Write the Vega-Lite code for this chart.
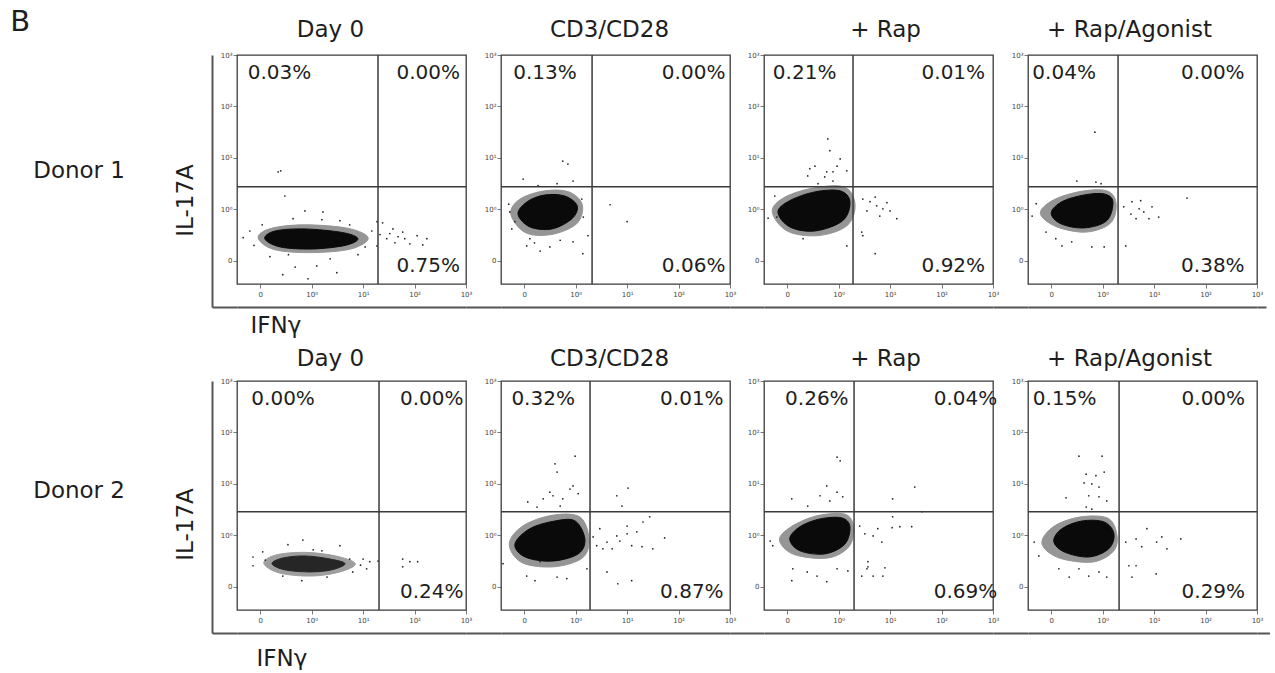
{
"$schema": "https://vega.github.io/schema/vega-lite/v6.json",
"padding": {"left": 10, "top": 8, "right": 0, "bottom": 0},
"autosize": {"type": "pad"},
"title": {"text": "B", "anchor": "start", "frame": "bounds", "fontSize": 29, "dx": -23, "offset": -48, "baseline": "bottom"},
"datasets": {
"flow": [
{"p":"a1","k":"halo","i":0,"x":2.10,"y":0.44},{"p":"a1","k":"halo","i":1,"x":1.72,"y":0.63},{"p":"a1","k":"halo","i":2,"x":0.87,"y":0.70},{"p":"a1","k":"halo","i":3,"x":0.21,"y":0.63},{"p":"a1","k":"halo","i":4,"x":-0.04,"y":0.45},{"p":"a1","k":"halo","i":5,"x":0.27,"y":0.22},{"p":"a1","k":"halo","i":6,"x":0.99,"y":0.16},{"p":"a1","k":"halo","i":7,"x":1.76,"y":0.23},
{"p":"a1","k":"core","i":0,"x":1.90,"y":0.43},{"p":"a1","k":"core","i":1,"x":1.60,"y":0.55},{"p":"a1","k":"core","i":2,"x":0.87,"y":0.62},{"p":"a1","k":"core","i":3,"x":0.29,"y":0.58},{"p":"a1","k":"core","i":4,"x":0.09,"y":0.43},{"p":"a1","k":"core","i":5,"x":0.39,"y":0.27},{"p":"a1","k":"core","i":6,"x":1.01,"y":0.23},{"p":"a1","k":"core","i":7,"x":1.65,"y":0.30},
{"p":"a1","k":"dot","x":0.35,"y":1.73},{"p":"a1","k":"dot","x":0.40,"y":1.75},{"p":"a1","k":"dot","x":0.48,"y":1.26},{"p":"a1","k":"dot","x":0.87,"y":0.97},{"p":"a1","k":"dot","x":1.22,"y":0.95},{"p":"a1","k":"dot","x":0.64,"y":0.82},{"p":"a1","k":"dot","x":-0.33,"y":0.45},{"p":"a1","k":"dot","x":0.68,"y":-0.12},{"p":"a1","k":"dot","x":0.44,"y":-0.27},{"p":"a1","k":"dot","x":0.93,"y":-0.35},{"p":"a1","k":"dot","x":1.49,"y":-0.23},{"p":"a1","k":"dot","x":1.10,"y":-0.10},{"p":"a1","k":"dot","x":2.27,"y":0.76},{"p":"a1","k":"dot","x":2.38,"y":0.74},{"p":"a1","k":"dot","x":2.58,"y":0.62},{"p":"a1","k":"dot","x":2.77,"y":0.56},{"p":"a1","k":"dot","x":3.05,"y":0.49},{"p":"a1","k":"dot","x":3.16,"y":0.31},{"p":"a1","k":"dot","x":2.91,"y":0.33},{"p":"a1","k":"dot","x":2.46,"y":0.43},{"p":"a1","k":"dot","x":2.68,"y":0.47},{"p":"a1","k":"dot","x":2.27,"y":0.29},{"p":"a1","k":"dot","x":2.52,"y":0.53},{"p":"a1","k":"dot","x":2.81,"y":0.43},{"p":"a1","k":"dot","x":2.33,"y":0.51},{"p":"a1","k":"dot","x":2.62,"y":0.35},{"p":"a1","k":"dot","x":2.17,"y":0.58},{"p":"a1","k":"dot","x":2.04,"y":0.27},{"p":"a1","k":"dot","x":-0.20,"y":0.58},{"p":"a1","k":"dot","x":0.04,"y":0.70},{"p":"a1","k":"dot","x":1.74,"y":0.70},{"p":"a1","k":"dot","x":1.55,"y":0.78},{"p":"a1","k":"dot","x":1.90,"y":0.12},{"p":"a1","k":"dot","x":0.19,"y":0.08},{"p":"a1","k":"dot","x":1.36,"y":0.04},{"p":"a1","k":"dot","x":3.24,"y":0.43},{"p":"a1","k":"dot","x":-0.12,"y":0.30},{"p":"a1","k":"dot","x":1.20,"y":0.80},{"p":"a1","k":"dot","x":0.55,"y":0.12},
{"p":"a1","k":"gate","x":2.29,"y":1.44},
{"p":"a1","k":"pct","s":"L","v":"T","t":"0.03%"},{"p":"a1","k":"pct","s":"R","v":"T","t":"0.00%"},{"p":"a1","k":"pct","s":"R","v":"B","t":"0.75%"},

{"p":"a2","k":"halo","i":0,"x":1.13,"y":1.09},{"p":"a2","k":"halo","i":1,"x":0.87,"y":1.34},{"p":"a2","k":"halo","i":2,"x":0.40,"y":1.36},{"p":"a2","k":"halo","i":3,"x":-0.08,"y":1.20},{"p":"a2","k":"halo","i":4,"x":-0.26,"y":0.91},{"p":"a2","k":"halo","i":5,"x":0.02,"y":0.55},{"p":"a2","k":"halo","i":6,"x":0.52,"y":0.51},{"p":"a2","k":"halo","i":7,"x":1.02,"y":0.72},
{"p":"a2","k":"core","i":0,"x":1.03,"y":1.07},{"p":"a2","k":"core","i":1,"x":0.79,"y":1.26},{"p":"a2","k":"core","i":2,"x":0.40,"y":1.28},{"p":"a2","k":"core","i":3,"x":0.06,"y":1.15},{"p":"a2","k":"core","i":4,"x":-0.12,"y":0.91},{"p":"a2","k":"core","i":5,"x":0.11,"y":0.66},{"p":"a2","k":"core","i":6,"x":0.54,"y":0.62},{"p":"a2","k":"core","i":7,"x":0.93,"y":0.82},
{"p":"a2","k":"dot","x":-0.02,"y":1.59},{"p":"a2","k":"dot","x":0.27,"y":1.46},{"p":"a2","k":"dot","x":0.64,"y":1.50},{"p":"a2","k":"dot","x":0.75,"y":1.94},{"p":"a2","k":"dot","x":0.85,"y":1.88},{"p":"a2","k":"dot","x":0.95,"y":1.55},{"p":"a2","k":"dot","x":1.67,"y":1.09},{"p":"a2","k":"dot","x":2.00,"y":0.76},{"p":"a2","k":"dot","x":-0.28,"y":0.95},{"p":"a2","k":"dot","x":-0.24,"y":0.62},{"p":"a2","k":"dot","x":0.05,"y":0.29},{"p":"a2","k":"dot","x":0.31,"y":0.19},{"p":"a2","k":"dot","x":1.14,"y":0.14},{"p":"a2","k":"dot","x":1.24,"y":0.49},{"p":"a2","k":"dot","x":0.11,"y":0.43},{"p":"a2","k":"dot","x":0.50,"y":0.27},{"p":"a2","k":"dot","x":0.95,"y":0.37},{"p":"a2","k":"dot","x":-0.18,"y":0.76},{"p":"a2","k":"dot","x":1.12,"y":1.20},{"p":"a2","k":"dot","x":-0.30,"y":1.10},{"p":"a2","k":"dot","x":1.15,"y":0.85},{"p":"a2","k":"dot","x":0.20,"y":0.35},{"p":"a2","k":"dot","x":0.70,"y":0.40},
{"p":"a2","k":"gate","x":1.32,"y":1.44},
{"p":"a2","k":"pct","s":"L","v":"T","t":"0.13%"},{"p":"a2","k":"pct","s":"R","v":"T","t":"0.00%"},{"p":"a2","k":"pct","s":"R","v":"B","t":"0.06%"},

{"p":"a3","k":"halo","i":0,"x":1.32,"y":1.09},{"p":"a3","k":"halo","i":1,"x":1.12,"y":1.43},{"p":"a3","k":"halo","i":2,"x":0.54,"y":1.42},{"p":"a3","k":"halo","i":3,"x":-0.04,"y":1.24},{"p":"a3","k":"halo","i":4,"x":-0.29,"y":0.96},{"p":"a3","k":"halo","i":5,"x":0.0,"y":0.58},{"p":"a3","k":"halo","i":6,"x":0.60,"y":0.49},{"p":"a3","k":"halo","i":7,"x":1.16,"y":0.68},
{"p":"a3","k":"core","i":0,"x":1.22,"y":1.15},{"p":"a3","k":"core","i":1,"x":1.03,"y":1.36},{"p":"a3","k":"core","i":2,"x":0.54,"y":1.34},{"p":"a3","k":"core","i":3,"x":0.05,"y":1.17},{"p":"a3","k":"core","i":4,"x":-0.18,"y":0.95},{"p":"a3","k":"core","i":5,"x":0.05,"y":0.66},{"p":"a3","k":"core","i":6,"x":0.54,"y":0.58},{"p":"a3","k":"core","i":7,"x":1.08,"y":0.78},
{"p":"a3","k":"dot","x":0.79,"y":2.37},{"p":"a3","k":"dot","x":0.83,"y":2.14},{"p":"a3","k":"dot","x":0.77,"y":1.73},{"p":"a3","k":"dot","x":0.89,"y":1.73},{"p":"a3","k":"dot","x":0.73,"y":1.63},{"p":"a3","k":"dot","x":0.44,"y":1.79},{"p":"a3","k":"dot","x":0.40,"y":1.65},{"p":"a3","k":"dot","x":1.03,"y":1.98},{"p":"a3","k":"dot","x":1.16,"y":1.75},{"p":"a3","k":"dot","x":0.60,"y":1.50},{"p":"a3","k":"dot","x":0.89,"y":1.55},{"p":"a3","k":"dot","x":0.97,"y":1.84},{"p":"a3","k":"dot","x":0.54,"y":1.84},{"p":"a3","k":"dot","x":0.31,"y":0.43},{"p":"a3","k":"dot","x":1.16,"y":0.29},{"p":"a3","k":"dot","x":1.47,"y":0.49},{"p":"a3","k":"dot","x":1.71,"y":0.14},{"p":"a3","k":"dot","x":-0.20,"y":0.85},{"p":"a3","k":"dot","x":-0.37,"y":0.83},{"p":"a3","k":"dot","x":-0.24,"y":1.26},{"p":"a3","k":"dot","x":1.47,"y":1.20},{"p":"a3","k":"dot","x":1.61,"y":1.15},{"p":"a3","k":"dot","x":1.74,"y":1.07},{"p":"a3","k":"dot","x":1.86,"y":1.01},{"p":"a3","k":"dot","x":2.00,"y":0.97},{"p":"a3","k":"dot","x":2.13,"y":0.82},{"p":"a3","k":"dot","x":1.80,"y":0.87},{"p":"a3","k":"dot","x":1.55,"y":0.97},{"p":"a3","k":"dot","x":1.71,"y":1.24},{"p":"a3","k":"dot","x":1.94,"y":1.13},{"p":"a3","k":"dot","x":1.45,"y":0.56},
{"p":"a3","k":"gate","x":1.28,"y":1.44},
{"p":"a3","k":"pct","s":"L","v":"T","t":"0.21%"},{"p":"a3","k":"pct","s":"R","v":"T","t":"0.01%"},{"p":"a3","k":"pct","s":"R","v":"B","t":"0.92%"},

{"p":"a4","k":"halo","i":0,"x":1.26,"y":1.13},{"p":"a4","k":"halo","i":1,"x":1.08,"y":1.36},{"p":"a4","k":"halo","i":2,"x":0.58,"y":1.35},{"p":"a4","k":"halo","i":3,"x":0.04,"y":1.18},{"p":"a4","k":"halo","i":4,"x":-0.21,"y":0.92},{"p":"a4","k":"halo","i":5,"x":0.11,"y":0.66},{"p":"a4","k":"halo","i":6,"x":0.69,"y":0.56},{"p":"a4","k":"halo","i":7,"x":1.16,"y":0.74},
{"p":"a4","k":"core","i":0,"x":1.20,"y":1.15},{"p":"a4","k":"core","i":1,"x":1.03,"y":1.30},{"p":"a4","k":"core","i":2,"x":0.64,"y":1.28},{"p":"a4","k":"core","i":3,"x":0.21,"y":1.15},{"p":"a4","k":"core","i":4,"x":0.0,"y":0.93},{"p":"a4","k":"core","i":5,"x":0.19,"y":0.72},{"p":"a4","k":"core","i":6,"x":0.64,"y":0.64},{"p":"a4","k":"core","i":7,"x":1.08,"y":0.78},
{"p":"a4","k":"dot","x":0.85,"y":2.50},{"p":"a4","k":"dot","x":0.50,"y":1.55},{"p":"a4","k":"dot","x":0.87,"y":1.53},{"p":"a4","k":"dot","x":0.97,"y":1.50},{"p":"a4","k":"dot","x":-0.29,"y":1.11},{"p":"a4","k":"dot","x":-0.37,"y":0.87},{"p":"a4","k":"dot","x":0.21,"y":0.29},{"p":"a4","k":"dot","x":0.40,"y":0.37},{"p":"a4","k":"dot","x":0.79,"y":0.27},{"p":"a4","k":"dot","x":1.03,"y":0.27},{"p":"a4","k":"dot","x":1.45,"y":0.29},{"p":"a4","k":"dot","x":1.41,"y":1.05},{"p":"a4","k":"dot","x":1.57,"y":1.15},{"p":"a4","k":"dot","x":1.71,"y":1.01},{"p":"a4","k":"dot","x":1.80,"y":0.95},{"p":"a4","k":"dot","x":1.90,"y":0.82},{"p":"a4","k":"dot","x":2.09,"y":0.85},{"p":"a4","k":"dot","x":2.64,"y":1.22},{"p":"a4","k":"dot","x":1.65,"y":0.82},{"p":"a4","k":"dot","x":1.55,"y":0.91},{"p":"a4","k":"dot","x":1.96,"y":1.05},{"p":"a4","k":"dot","x":1.74,"y":1.17},{"p":"a4","k":"dot","x":-0.10,"y":0.56},{"p":"a4","k":"dot","x":0.09,"y":0.43},
{"p":"a4","k":"gate","x":1.30,"y":1.44},
{"p":"a4","k":"pct","s":"L","v":"T","t":"0.04%"},{"p":"a4","k":"pct","s":"R","v":"T","t":"0.00%"},{"p":"a4","k":"pct","s":"R","v":"B","t":"0.38%"},

{"p":"b1","k":"halo","i":0,"x":1.85,"y":0.45},{"p":"b1","k":"halo","i":1,"x":1.47,"y":0.60},{"p":"b1","k":"halo","i":2,"x":0.87,"y":0.67},{"p":"b1","k":"halo","i":3,"x":0.31,"y":0.62},{"p":"b1","k":"halo","i":4,"x":0.07,"y":0.46},{"p":"b1","k":"halo","i":5,"x":0.37,"y":0.27},{"p":"b1","k":"halo","i":6,"x":0.99,"y":0.21},{"p":"b1","k":"halo","i":7,"x":1.55,"y":0.29},
{"p":"b1","k":"core","i":0,"x":1.65,"y":0.45},{"p":"b1","k":"core","i":1,"x":1.36,"y":0.54},{"p":"b1","k":"core","i":2,"x":0.87,"y":0.60},{"p":"b1","k":"core","i":3,"x":0.44,"y":0.56},{"p":"b1","k":"core","i":4,"x":0.23,"y":0.45},{"p":"b1","k":"core","i":5,"x":0.48,"y":0.33},{"p":"b1","k":"core","i":6,"x":0.97,"y":0.29},{"p":"b1","k":"core","i":7,"x":1.39,"y":0.33},
{"p":"b1","k":"dot","x":0.83,"y":0.91},{"p":"b1","k":"dot","x":0.54,"y":0.82},{"p":"b1","k":"dot","x":1.03,"y":0.72},{"p":"b1","k":"dot","x":-0.14,"y":0.58},{"p":"b1","k":"dot","x":0.05,"y":0.68},{"p":"b1","k":"dot","x":1.55,"y":0.80},{"p":"b1","k":"dot","x":1.74,"y":0.54},{"p":"b1","k":"dot","x":2.00,"y":0.54},{"p":"b1","k":"dot","x":2.13,"y":0.49},{"p":"b1","k":"dot","x":2.29,"y":0.50},{"p":"b1","k":"dot","x":2.77,"y":0.54},{"p":"b1","k":"dot","x":2.91,"y":0.49},{"p":"b1","k":"dot","x":3.06,"y":0.49},{"p":"b1","k":"dot","x":2.77,"y":0.39},{"p":"b1","k":"dot","x":0.81,"y":0.12},{"p":"b1","k":"dot","x":1.30,"y":0.19},{"p":"b1","k":"dot","x":0.44,"y":0.21},{"p":"b1","k":"dot","x":1.80,"y":0.29},{"p":"b1","k":"dot","x":2.07,"y":0.35},{"p":"b1","k":"dot","x":-0.14,"y":0.41},{"p":"b1","k":"dot","x":1.95,"y":0.42},{"p":"b1","k":"dot","x":0.10,"y":0.52},{"p":"b1","k":"dot","x":1.20,"y":0.70},
{"p":"b1","k":"gate","x":2.31,"y":1.46},
{"p":"b1","k":"pct","s":"L","v":"T","t":"0.00%"},{"p":"b1","k":"pct","s":"R","v":"T","t":"0.00%"},{"p":"b1","k":"pct","s":"R","v":"B","t":"0.24%"},

{"p":"b2","k":"halo","i":0,"x":1.26,"y":0.93},{"p":"b2","k":"halo","i":1,"x":1.08,"y":1.36},{"p":"b2","k":"halo","i":2,"x":0.54,"y":1.39},{"p":"b2","k":"halo","i":3,"x":-0.03,"y":1.18},{"p":"b2","k":"halo","i":4,"x":-0.29,"y":0.83},{"p":"b2","k":"halo","i":5,"x":-0.04,"y":0.47},{"p":"b2","k":"halo","i":6,"x":0.58,"y":0.39},{"p":"b2","k":"halo","i":7,"x":1.13,"y":0.56},
{"p":"b2","k":"core","i":0,"x":1.18,"y":0.93},{"p":"b2","k":"core","i":1,"x":0.99,"y":1.28},{"p":"b2","k":"core","i":2,"x":0.60,"y":1.28},{"p":"b2","k":"core","i":3,"x":0.11,"y":1.13},{"p":"b2","k":"core","i":4,"x":-0.18,"y":0.83},{"p":"b2","k":"core","i":5,"x":0.02,"y":0.58},{"p":"b2","k":"core","i":6,"x":0.54,"y":0.50},{"p":"b2","k":"core","i":7,"x":1.05,"y":0.64},
{"p":"b2","k":"dot","x":0.99,"y":2.54},{"p":"b2","k":"dot","x":0.60,"y":2.39},{"p":"b2","k":"dot","x":0.64,"y":2.23},{"p":"b2","k":"dot","x":0.50,"y":1.84},{"p":"b2","k":"dot","x":0.56,"y":1.77},{"p":"b2","k":"dot","x":0.75,"y":1.71},{"p":"b2","k":"dot","x":0.89,"y":1.90},{"p":"b2","k":"dot","x":0.95,"y":1.96},{"p":"b2","k":"dot","x":0.07,"y":1.65},{"p":"b2","k":"dot","x":0.25,"y":1.55},{"p":"b2","k":"dot","x":0.70,"y":1.57},{"p":"b2","k":"dot","x":1.05,"y":1.81},{"p":"b2","k":"dot","x":0.37,"y":1.71},{"p":"b2","k":"dot","x":1.47,"y":1.13},{"p":"b2","k":"dot","x":1.61,"y":0.87},{"p":"b2","k":"dot","x":1.80,"y":0.99},{"p":"b2","k":"dot","x":2.00,"y":1.03},{"p":"b2","k":"dot","x":2.09,"y":0.80},{"p":"b2","k":"dot","x":2.19,"y":1.07},{"p":"b2","k":"dot","x":2.31,"y":1.26},{"p":"b2","k":"dot","x":2.44,"y":1.36},{"p":"b2","k":"dot","x":2.29,"y":0.78},{"p":"b2","k":"dot","x":2.50,"y":0.74},{"p":"b2","k":"dot","x":2.73,"y":0.95},{"p":"b2","k":"dot","x":1.53,"y":0.74},{"p":"b2","k":"dot","x":1.71,"y":0.74},{"p":"b2","k":"dot","x":1.86,"y":0.89},{"p":"b2","k":"dot","x":2.00,"y":1.18},{"p":"b2","k":"dot","x":1.34,"y":0.97},{"p":"b2","k":"dot","x":1.41,"y":0.80},{"p":"b2","k":"dot","x":1.80,"y":1.77},{"p":"b2","k":"dot","x":1.90,"y":1.57},{"p":"b2","k":"dot","x":2.02,"y":1.92},{"p":"b2","k":"dot","x":1.61,"y":0.29},{"p":"b2","k":"dot","x":2.09,"y":0.12},{"p":"b2","k":"dot","x":1.82,"y":0.06},{"p":"b2","k":"dot","x":0.05,"y":0.21},{"p":"b2","k":"dot","x":0.21,"y":0.12},{"p":"b2","k":"dot","x":0.64,"y":0.19},{"p":"b2","k":"dot","x":0.83,"y":0.16},{"p":"b2","k":"dot","x":1.22,"y":0.35},{"p":"b2","k":"dot","x":0.31,"y":0.49},{"p":"b2","k":"dot","x":-0.41,"y":0.45},
{"p":"b2","k":"gate","x":1.28,"y":1.46},
{"p":"b2","k":"pct","s":"L","v":"T","t":"0.32%"},{"p":"b2","k":"pct","s":"R","v":"T","t":"0.01%"},{"p":"b2","k":"pct","s":"R","v":"B","t":"0.87%"},

{"p":"b3","k":"halo","i":0,"x":1.29,"y":1.15},{"p":"b3","k":"halo","i":1,"x":1.13,"y":1.41},{"p":"b3","k":"halo","i":2,"x":0.58,"y":1.38},{"p":"b3","k":"halo","i":3,"x":0.08,"y":1.17},{"p":"b3","k":"halo","i":4,"x":-0.15,"y":0.91},{"p":"b3","k":"halo","i":5,"x":0.13,"y":0.63},{"p":"b3","k":"halo","i":6,"x":0.79,"y":0.56},{"p":"b3","k":"halo","i":7,"x":1.20,"y":0.78},
{"p":"b3","k":"core","i":0,"x":1.22,"y":1.17},{"p":"b3","k":"core","i":1,"x":1.06,"y":1.34},{"p":"b3","k":"core","i":2,"x":0.64,"y":1.32},{"p":"b3","k":"core","i":3,"x":0.25,"y":1.17},{"p":"b3","k":"core","i":4,"x":0.05,"y":0.93},{"p":"b3","k":"core","i":5,"x":0.25,"y":0.70},{"p":"b3","k":"core","i":6,"x":0.73,"y":0.64},{"p":"b3","k":"core","i":7,"x":1.12,"y":0.83},
{"p":"b3","k":"dot","x":0.97,"y":2.52},{"p":"b3","k":"dot","x":1.03,"y":2.45},{"p":"b3","k":"dot","x":0.77,"y":1.96},{"p":"b3","k":"dot","x":0.64,"y":1.77},{"p":"b3","k":"dot","x":0.97,"y":1.84},{"p":"b3","k":"dot","x":1.08,"y":1.75},{"p":"b3","k":"dot","x":0.83,"y":1.67},{"p":"b3","k":"dot","x":0.09,"y":1.71},{"p":"b3","k":"dot","x":0.40,"y":1.57},{"p":"b3","k":"dot","x":0.09,"y":0.12},{"p":"b3","k":"dot","x":0.39,"y":0.29},{"p":"b3","k":"dot","x":0.58,"y":0.21},{"p":"b3","k":"dot","x":0.77,"y":0.10},{"p":"b3","k":"dot","x":0.97,"y":0.35},{"p":"b3","k":"dot","x":1.18,"y":0.31},{"p":"b3","k":"dot","x":1.45,"y":0.21},{"p":"b3","k":"dot","x":1.57,"y":0.39},{"p":"b3","k":"dot","x":-0.28,"y":0.80},{"p":"b3","k":"dot","x":-0.33,"y":0.89},{"p":"b3","k":"dot","x":0.11,"y":0.35},{"p":"b3","k":"dot","x":1.51,"y":1.03},{"p":"b3","k":"dot","x":1.67,"y":0.99},{"p":"b3","k":"dot","x":1.84,"y":0.87},{"p":"b3","k":"dot","x":1.76,"y":1.13},{"p":"b3","k":"dot","x":2.04,"y":1.15},{"p":"b3","k":"dot","x":2.19,"y":1.17},{"p":"b3","k":"dot","x":2.42,"y":1.17},{"p":"b3","k":"dot","x":2.05,"y":1.36},{"p":"b3","k":"dot","x":2.05,"y":1.71},{"p":"b3","k":"dot","x":2.48,"y":1.94},{"p":"b3","k":"dot","x":2.62,"y":1.46},{"p":"b3","k":"dot","x":1.57,"y":0.49},{"p":"b3","k":"dot","x":1.55,"y":0.35},{"p":"b3","k":"dot","x":1.90,"y":0.37},{"p":"b3","k":"dot","x":1.67,"y":0.21},{"p":"b3","k":"dot","x":1.86,"y":0.21},{"p":"b3","k":"dot","x":1.41,"y":1.18},
{"p":"b3","k":"gate","x":1.30,"y":1.46},
{"p":"b3","k":"pct","s":"L","v":"T","t":"0.26%"},{"p":"b3","k":"pct","s":"R","v":"T","t":"0.04%"},{"p":"b3","k":"pct","s":"R","v":"B","t":"0.69%"},

{"p":"b4","k":"halo","i":0,"x":1.28,"y":0.99},{"p":"b4","k":"halo","i":1,"x":1.11,"y":1.33},{"p":"b4","k":"halo","i":2,"x":0.58,"y":1.36},{"p":"b4","k":"halo","i":3,"x":0.06,"y":1.18},{"p":"b4","k":"halo","i":4,"x":-0.18,"y":0.85},{"p":"b4","k":"halo","i":5,"x":0.13,"y":0.57},{"p":"b4","k":"halo","i":6,"x":0.79,"y":0.48},{"p":"b4","k":"halo","i":7,"x":1.20,"y":0.68},
{"p":"b4","k":"core","i":0,"x":1.22,"y":1.03},{"p":"b4","k":"core","i":1,"x":1.03,"y":1.26},{"p":"b4","k":"core","i":2,"x":0.60,"y":1.28},{"p":"b4","k":"core","i":3,"x":0.21,"y":1.13},{"p":"b4","k":"core","i":4,"x":0.05,"y":0.89},{"p":"b4","k":"core","i":5,"x":0.25,"y":0.68},{"p":"b4","k":"core","i":6,"x":0.73,"y":0.58},{"p":"b4","k":"core","i":7,"x":1.12,"y":0.74},
{"p":"b4","k":"dot","x":0.54,"y":2.54},{"p":"b4","k":"dot","x":0.99,"y":2.54},{"p":"b4","k":"dot","x":0.68,"y":2.19},{"p":"b4","k":"dot","x":0.87,"y":2.16},{"p":"b4","k":"dot","x":1.03,"y":2.23},{"p":"b4","k":"dot","x":0.64,"y":2.02},{"p":"b4","k":"dot","x":0.79,"y":2.00},{"p":"b4","k":"dot","x":0.93,"y":1.94},{"p":"b4","k":"dot","x":0.29,"y":1.73},{"p":"b4","k":"dot","x":0.73,"y":1.77},{"p":"b4","k":"dot","x":0.93,"y":1.75},{"p":"b4","k":"dot","x":1.08,"y":1.67},{"p":"b4","k":"dot","x":0.79,"y":1.51},{"p":"b4","k":"dot","x":0.68,"y":1.55},{"p":"b4","k":"dot","x":0.35,"y":0.19},{"p":"b4","k":"dot","x":0.54,"y":0.35},{"p":"b4","k":"dot","x":0.73,"y":0.21},{"p":"b4","k":"dot","x":0.93,"y":0.29},{"p":"b4","k":"dot","x":1.08,"y":0.19},{"p":"b4","k":"dot","x":0.15,"y":0.35},{"p":"b4","k":"dot","x":1.45,"y":0.87},{"p":"b4","k":"dot","x":1.65,"y":0.93},{"p":"b4","k":"dot","x":1.76,"y":0.78},{"p":"b4","k":"dot","x":1.86,"y":1.13},{"p":"b4","k":"dot","x":2.05,"y":0.87},{"p":"b4","k":"dot","x":2.15,"y":0.97},{"p":"b4","k":"dot","x":2.25,"y":0.74},{"p":"b4","k":"dot","x":2.52,"y":0.93},{"p":"b4","k":"dot","x":1.51,"y":0.41},{"p":"b4","k":"dot","x":1.65,"y":0.41},{"p":"b4","k":"dot","x":1.57,"y":0.19},{"p":"b4","k":"dot","x":2.04,"y":0.25},{"p":"b4","k":"dot","x":-0.33,"y":0.87},{"p":"b4","k":"dot","x":-0.24,"y":0.60},
{"p":"b4","k":"gate","x":1.32,"y":1.46},
{"p":"b4","k":"pct","s":"L","v":"T","t":"0.15%"},{"p":"b4","k":"pct","s":"R","v":"T","t":"0.00%"},{"p":"b4","k":"pct","s":"R","v":"B","t":"0.29%"}
]
},
"columns": 9,
"spacing": {"row": 74, "column": 0},
"align": "each",
"bounds": "flush",
"concat": [
{"width": 25, "height": 252, "view": {"stroke": null},
 "title": {"text": "Donor 1", "orient": "left", "angle": 0, "align": "left", "baseline": "middle", "anchor": "middle", "offset": 49, "dy": -10},
 "data": {"values": [{"a": 0.5}]},
 "mark": {"type": "point", "opacity": 0},
 "encoding": {
  "x": {"field": "a", "type": "quantitative", "scale": {"domain": [0, 1]}, "axis": {"orient": "bottom", "domain": true, "domainColor": "#555", "domainWidth": 2, "ticks": false, "labels": false, "title": "IFNγ", "titleX": 38, "titleAlign": "left", "titleBaseline": "top", "titlePadding": 7, "titleFontSize": 23, "titleFontWeight": "normal", "titleColor": "#1e1e1e", "titleFont": "DejaVu Sans"}},
  "y": {"field": "a", "type": "quantitative", "scale": {"domain": [0, 1]}, "axis": {"orient": "left", "domain": true, "domainColor": "#555", "domainWidth": 2, "ticks": false, "labels": false, "title": "IL-17A", "titleY": 145, "titlePadding": 15, "titleFontSize": 23, "titleFontWeight": "normal", "titleColor": "#1e1e1e", "titleFont": "DejaVu Sans"}}
 }},
{"width": 229, "height": 229, "title": {"text": "Day 0", "dx": -21, "offset": 9}, "data": {"name": "flow"}, "transform": [{"filter": {"field": "p", "equal": "a1"}}],
 "layer": [
  {"encoding": {"x": {"field": "x", "type": "quantitative", "scale": {"domain": [-0.45, 4], "nice": false, "zero": false}, "axis": {"title": null}}, "y": {"field": "y", "type": "quantitative", "scale": {"domain": [-0.45, 4], "nice": false, "zero": false}, "axis": {"title": null}}},
   "layer": [
    {"transform": [{"filter": {"field": "k", "equal": "halo"}}], "mark": {"type": "line", "interpolate": "cardinal-closed", "fill": "#959595", "stroke": "#959595", "strokeWidth": 1}, "encoding": {"order": {"field": "i", "type": "quantitative"}}},
    {"transform": [{"filter": {"field": "k", "equal": "core"}}], "mark": {"type": "line", "interpolate": "cardinal-closed", "fill": "#0a0a0a", "stroke": "#0a0a0a", "strokeWidth": 1}, "encoding": {"order": {"field": "i", "type": "quantitative"}}},
    {"transform": [{"filter": {"field": "k", "equal": "dot"}}], "mark": {"type": "point", "filled": true, "size": 3, "color": "#222", "strokeWidth": 0, "opacity": 1}},
    {"transform": [{"filter": {"field": "k", "equal": "gate"}}], "mark": {"type": "rule", "color": "#3a3a3a", "strokeWidth": 1.5}, "encoding": {"y": {"datum": -0.45}, "y2": {"datum": 4}}},
    {"transform": [{"filter": {"field": "k", "equal": "gate"}}], "mark": {"type": "rule", "color": "#3a3a3a", "strokeWidth": 1.5}, "encoding": {"x": {"datum": -0.45}, "x2": {"datum": 4}}}
   ]},
  {"transform": [{"filter": {"field": "k", "equal": "pct"}}], "mark": {"type": "text", "fontSize": 20, "color": "#1e1e1e", "font": "DejaVu Sans"},
   "encoding": {"x": {"field": "s", "type": "nominal", "scale": {"type": "point", "domain": ["L", "R"], "padding": 0.27, "align": 0.53}, "axis": {"orient": "bottom", "offset": 23, "domain": true, "domainColor": "#555", "domainWidth": 2, "ticks": false, "labels": false, "title": null, "grid": false}},
    "y": {"field": "v", "type": "nominal", "scale": {"type": "point", "domain": ["T", "B"], "padding": 0.093}, "axis": null}, "text": {"field": "t"}}}
 ],
 "resolve": {"scale": {"x": "independent", "y": "independent"}}},
{"width": 35, "height": 229, "view": {"stroke": null}, "data": {"values": [{"a": 0.5}]}, "mark": {"type": "point", "opacity": 0}, "encoding": {"x": {"field": "a", "type": "quantitative", "scale": {"domain": [0, 1]}, "axis": {"orient": "bottom", "offset": 23, "domain": true, "domainColor": "#555", "domainWidth": 2, "ticks": false, "labels": false, "title": null}}}},
{"width": 229, "height": 229, "title": {"text": "CD3/CD28", "dx": -6, "offset": 9}, "data": {"name": "flow"}, "transform": [{"filter": {"field": "p", "equal": "a2"}}],
 "layer": [
  {"encoding": {"x": {"field": "x", "type": "quantitative", "scale": {"domain": [-0.45, 4], "nice": false, "zero": false}, "axis": {"title": null}}, "y": {"field": "y", "type": "quantitative", "scale": {"domain": [-0.45, 4], "nice": false, "zero": false}, "axis": {"title": null}}},
   "layer": [
    {"transform": [{"filter": {"field": "k", "equal": "halo"}}], "mark": {"type": "line", "interpolate": "cardinal-closed", "fill": "#959595", "stroke": "#959595", "strokeWidth": 1}, "encoding": {"order": {"field": "i", "type": "quantitative"}}},
    {"transform": [{"filter": {"field": "k", "equal": "core"}}], "mark": {"type": "line", "interpolate": "cardinal-closed", "fill": "#0a0a0a", "stroke": "#0a0a0a", "strokeWidth": 1}, "encoding": {"order": {"field": "i", "type": "quantitative"}}},
    {"transform": [{"filter": {"field": "k", "equal": "dot"}}], "mark": {"type": "point", "filled": true, "size": 3, "color": "#222", "strokeWidth": 0, "opacity": 1}},
    {"transform": [{"filter": {"field": "k", "equal": "gate"}}], "mark": {"type": "rule", "color": "#3a3a3a", "strokeWidth": 1.5}, "encoding": {"y": {"datum": -0.45}, "y2": {"datum": 4}}},
    {"transform": [{"filter": {"field": "k", "equal": "gate"}}], "mark": {"type": "rule", "color": "#3a3a3a", "strokeWidth": 1.5}, "encoding": {"x": {"datum": -0.45}, "x2": {"datum": 4}}}
   ]},
  {"transform": [{"filter": {"field": "k", "equal": "pct"}}], "mark": {"type": "text", "fontSize": 20, "color": "#1e1e1e", "font": "DejaVu Sans"},
   "encoding": {"x": {"field": "s", "type": "nominal", "scale": {"type": "point", "domain": ["L", "R"], "padding": 0.27, "align": 0.547}, "axis": {"orient": "bottom", "offset": 23, "domain": true, "domainColor": "#555", "domainWidth": 2, "ticks": false, "labels": false, "title": null, "grid": false}},
    "y": {"field": "v", "type": "nominal", "scale": {"type": "point", "domain": ["T", "B"], "padding": 0.093}, "axis": null}, "text": {"field": "t"}}}
 ],
 "resolve": {"scale": {"x": "independent", "y": "independent"}}},
{"width": 34, "height": 229, "view": {"stroke": null}, "data": {"values": [{"a": 0.5}]}, "mark": {"type": "point", "opacity": 0}, "encoding": {"x": {"field": "a", "type": "quantitative", "scale": {"domain": [0, 1]}, "axis": {"orient": "bottom", "offset": 23, "domain": true, "domainColor": "#555", "domainWidth": 2, "ticks": false, "labels": false, "title": null}}}},
{"width": 229, "height": 229, "title": {"text": "+ Rap", "dx": 7, "offset": 9}, "data": {"name": "flow"}, "transform": [{"filter": {"field": "p", "equal": "a3"}}],
 "layer": [
  {"encoding": {"x": {"field": "x", "type": "quantitative", "scale": {"domain": [-0.45, 4], "nice": false, "zero": false}, "axis": {"title": null}}, "y": {"field": "y", "type": "quantitative", "scale": {"domain": [-0.45, 4], "nice": false, "zero": false}, "axis": {"title": null}}},
   "layer": [
    {"transform": [{"filter": {"field": "k", "equal": "halo"}}], "mark": {"type": "line", "interpolate": "cardinal-closed", "fill": "#959595", "stroke": "#959595", "strokeWidth": 1}, "encoding": {"order": {"field": "i", "type": "quantitative"}}},
    {"transform": [{"filter": {"field": "k", "equal": "core"}}], "mark": {"type": "line", "interpolate": "cardinal-closed", "fill": "#0a0a0a", "stroke": "#0a0a0a", "strokeWidth": 1}, "encoding": {"order": {"field": "i", "type": "quantitative"}}},
    {"transform": [{"filter": {"field": "k", "equal": "dot"}}], "mark": {"type": "point", "filled": true, "size": 3, "color": "#222", "strokeWidth": 0, "opacity": 1}},
    {"transform": [{"filter": {"field": "k", "equal": "gate"}}], "mark": {"type": "rule", "color": "#3a3a3a", "strokeWidth": 1.5}, "encoding": {"y": {"datum": -0.45}, "y2": {"datum": 4}}},
    {"transform": [{"filter": {"field": "k", "equal": "gate"}}], "mark": {"type": "rule", "color": "#3a3a3a", "strokeWidth": 1.5}, "encoding": {"x": {"datum": -0.45}, "x2": {"datum": 4}}}
   ]},
  {"transform": [{"filter": {"field": "k", "equal": "pct"}}], "mark": {"type": "text", "fontSize": 20, "color": "#1e1e1e", "font": "DejaVu Sans"},
   "encoding": {"x": {"field": "s", "type": "nominal", "scale": {"type": "point", "domain": ["L", "R"], "padding": 0.27, "align": 0.506}, "axis": {"orient": "bottom", "offset": 23, "domain": true, "domainColor": "#555", "domainWidth": 2, "ticks": false, "labels": false, "title": null, "grid": false}},
    "y": {"field": "v", "type": "nominal", "scale": {"type": "point", "domain": ["T", "B"], "padding": 0.093}, "axis": null}, "text": {"field": "t"}}}
 ],
 "resolve": {"scale": {"x": "independent", "y": "independent"}}},
{"width": 35, "height": 229, "view": {"stroke": null}, "data": {"values": [{"a": 0.5}]}, "mark": {"type": "point", "opacity": 0}, "encoding": {"x": {"field": "a", "type": "quantitative", "scale": {"domain": [0, 1]}, "axis": {"orient": "bottom", "offset": 23, "domain": true, "domainColor": "#555", "domainWidth": 2, "ticks": false, "labels": false, "title": null}}}},
{"width": 229, "height": 229, "title": {"text": "+ Rap/Agonist", "dx": -13, "offset": 9}, "data": {"name": "flow"}, "transform": [{"filter": {"field": "p", "equal": "a4"}}],
 "layer": [
  {"encoding": {"x": {"field": "x", "type": "quantitative", "scale": {"domain": [-0.45, 4], "nice": false, "zero": false}, "axis": {"title": null}}, "y": {"field": "y", "type": "quantitative", "scale": {"domain": [-0.45, 4], "nice": false, "zero": false}, "axis": {"title": null}}},
   "layer": [
    {"transform": [{"filter": {"field": "k", "equal": "halo"}}], "mark": {"type": "line", "interpolate": "cardinal-closed", "fill": "#959595", "stroke": "#959595", "strokeWidth": 1}, "encoding": {"order": {"field": "i", "type": "quantitative"}}},
    {"transform": [{"filter": {"field": "k", "equal": "core"}}], "mark": {"type": "line", "interpolate": "cardinal-closed", "fill": "#0a0a0a", "stroke": "#0a0a0a", "strokeWidth": 1}, "encoding": {"order": {"field": "i", "type": "quantitative"}}},
    {"transform": [{"filter": {"field": "k", "equal": "dot"}}], "mark": {"type": "point", "filled": true, "size": 3, "color": "#222", "strokeWidth": 0, "opacity": 1}},
    {"transform": [{"filter": {"field": "k", "equal": "gate"}}], "mark": {"type": "rule", "color": "#3a3a3a", "strokeWidth": 1.5}, "encoding": {"y": {"datum": -0.45}, "y2": {"datum": 4}}},
    {"transform": [{"filter": {"field": "k", "equal": "gate"}}], "mark": {"type": "rule", "color": "#3a3a3a", "strokeWidth": 1.5}, "encoding": {"x": {"datum": -0.45}, "x2": {"datum": 4}}}
   ]},
  {"transform": [{"filter": {"field": "k", "equal": "pct"}}], "mark": {"type": "text", "fontSize": 20, "color": "#1e1e1e", "font": "DejaVu Sans"},
   "encoding": {"x": {"field": "s", "type": "nominal", "scale": {"type": "point", "domain": ["L", "R"], "padding": 0.27, "align": 0.45}, "axis": {"orient": "bottom", "offset": 23, "domain": true, "domainColor": "#555", "domainWidth": 2, "ticks": false, "labels": false, "title": null, "grid": false}},
    "y": {"field": "v", "type": "nominal", "scale": {"type": "point", "domain": ["T", "B"], "padding": 0.093}, "axis": null}, "text": {"field": "t"}}}
 ],
 "resolve": {"scale": {"x": "independent", "y": "independent"}}},
{"width": 9, "height": 229, "view": {"stroke": null}, "data": {"values": [{"a": 0.5}]}, "mark": {"type": "point", "opacity": 0}, "encoding": {"x": {"field": "a", "type": "quantitative", "scale": {"domain": [0, 1]}, "axis": {"orient": "bottom", "offset": 23, "domain": true, "domainColor": "#555", "domainWidth": 2, "ticks": false, "labels": false, "title": null}}}},

{"width": 25, "height": 252, "view": {"stroke": null},
 "title": {"text": "Donor 2", "orient": "left", "angle": 0, "align": "left", "baseline": "middle", "anchor": "middle", "offset": 49, "dy": -16},
 "data": {"values": [{"a": 0.5}]},
 "mark": {"type": "point", "opacity": 0},
 "encoding": {
  "x": {"field": "a", "type": "quantitative", "scale": {"domain": [0, 1]}, "axis": {"orient": "bottom", "domain": true, "domainColor": "#555", "domainWidth": 2, "ticks": false, "labels": false, "title": "IFNγ", "titleX": 44, "titleAlign": "left", "titleBaseline": "top", "titlePadding": 14, "titleFontSize": 23, "titleFontWeight": "normal", "titleColor": "#1e1e1e", "titleFont": "DejaVu Sans"}},
  "y": {"field": "a", "type": "quantitative", "scale": {"domain": [0, 1]}, "axis": {"orient": "left", "domain": true, "domainColor": "#555", "domainWidth": 2, "ticks": false, "labels": false, "title": "IL-17A", "titleY": 143, "titlePadding": 15, "titleFontSize": 23, "titleFontWeight": "normal", "titleColor": "#1e1e1e", "titleFont": "DejaVu Sans"}}
 }},
{"width": 229, "height": 229, "title": {"text": "Day 0", "dx": -21, "offset": 6}, "data": {"name": "flow"}, "transform": [{"filter": {"field": "p", "equal": "b1"}}],
 "layer": [
  {"encoding": {"x": {"field": "x", "type": "quantitative", "scale": {"domain": [-0.45, 4], "nice": false, "zero": false}, "axis": {"title": null}}, "y": {"field": "y", "type": "quantitative", "scale": {"domain": [-0.45, 4], "nice": false, "zero": false}, "axis": {"title": null}}},
   "layer": [
    {"transform": [{"filter": {"field": "k", "equal": "halo"}}], "mark": {"type": "line", "interpolate": "cardinal-closed", "fill": "#9e9e9e", "stroke": "#9e9e9e", "strokeWidth": 1}, "encoding": {"order": {"field": "i", "type": "quantitative"}}},
    {"transform": [{"filter": {"field": "k", "equal": "core"}}], "mark": {"type": "line", "interpolate": "cardinal-closed", "fill": "#262626", "stroke": "#262626", "strokeWidth": 1}, "encoding": {"order": {"field": "i", "type": "quantitative"}}},
    {"transform": [{"filter": {"field": "k", "equal": "dot"}}], "mark": {"type": "point", "filled": true, "size": 3, "color": "#222", "strokeWidth": 0, "opacity": 1}},
    {"transform": [{"filter": {"field": "k", "equal": "gate"}}], "mark": {"type": "rule", "color": "#3a3a3a", "strokeWidth": 1.5}, "encoding": {"y": {"datum": -0.45}, "y2": {"datum": 4}}},
    {"transform": [{"filter": {"field": "k", "equal": "gate"}}], "mark": {"type": "rule", "color": "#3a3a3a", "strokeWidth": 1.5}, "encoding": {"x": {"datum": -0.45}, "x2": {"datum": 4}}}
   ]},
  {"transform": [{"filter": {"field": "k", "equal": "pct"}}], "mark": {"type": "text", "fontSize": 20, "color": "#1e1e1e", "font": "DejaVu Sans"},
   "encoding": {"x": {"field": "s", "type": "nominal", "scale": {"type": "point", "domain": ["L", "R"], "padding": 0.27, "align": 0.574}, "axis": {"orient": "bottom", "offset": 23, "domain": true, "domainColor": "#555", "domainWidth": 2, "ticks": false, "labels": false, "title": null, "grid": false}},
    "y": {"field": "v", "type": "nominal", "scale": {"type": "point", "domain": ["T", "B"], "padding": 0.093}, "axis": null}, "text": {"field": "t"}}}
 ],
 "resolve": {"scale": {"x": "independent", "y": "independent"}}},
{"width": 35, "height": 229, "view": {"stroke": null}, "data": {"values": [{"a": 0.5}]}, "mark": {"type": "point", "opacity": 0}, "encoding": {"x": {"field": "a", "type": "quantitative", "scale": {"domain": [0, 1]}, "axis": {"orient": "bottom", "offset": 23, "domain": true, "domainColor": "#555", "domainWidth": 2, "ticks": false, "labels": false, "title": null}}}},
{"width": 229, "height": 229, "title": {"text": "CD3/CD28", "dx": -6, "offset": 6}, "data": {"name": "flow"}, "transform": [{"filter": {"field": "p", "equal": "b2"}}],
 "layer": [
  {"encoding": {"x": {"field": "x", "type": "quantitative", "scale": {"domain": [-0.45, 4], "nice": false, "zero": false}, "axis": {"title": null}}, "y": {"field": "y", "type": "quantitative", "scale": {"domain": [-0.45, 4], "nice": false, "zero": false}, "axis": {"title": null}}},
   "layer": [
    {"transform": [{"filter": {"field": "k", "equal": "halo"}}], "mark": {"type": "line", "interpolate": "cardinal-closed", "fill": "#959595", "stroke": "#959595", "strokeWidth": 1}, "encoding": {"order": {"field": "i", "type": "quantitative"}}},
    {"transform": [{"filter": {"field": "k", "equal": "core"}}], "mark": {"type": "line", "interpolate": "cardinal-closed", "fill": "#0a0a0a", "stroke": "#0a0a0a", "strokeWidth": 1}, "encoding": {"order": {"field": "i", "type": "quantitative"}}},
    {"transform": [{"filter": {"field": "k", "equal": "dot"}}], "mark": {"type": "point", "filled": true, "size": 3, "color": "#222", "strokeWidth": 0, "opacity": 1}},
    {"transform": [{"filter": {"field": "k", "equal": "gate"}}], "mark": {"type": "rule", "color": "#3a3a3a", "strokeWidth": 1.5}, "encoding": {"y": {"datum": -0.45}, "y2": {"datum": 4}}},
    {"transform": [{"filter": {"field": "k", "equal": "gate"}}], "mark": {"type": "rule", "color": "#3a3a3a", "strokeWidth": 1.5}, "encoding": {"x": {"datum": -0.45}, "x2": {"datum": 4}}}
   ]},
  {"transform": [{"filter": {"field": "k", "equal": "pct"}}], "mark": {"type": "text", "fontSize": 20, "color": "#1e1e1e", "font": "DejaVu Sans"},
   "encoding": {"x": {"field": "s", "type": "nominal", "scale": {"type": "point", "domain": ["L", "R"], "padding": 0.27, "align": 0.525}, "axis": {"orient": "bottom", "offset": 23, "domain": true, "domainColor": "#555", "domainWidth": 2, "ticks": false, "labels": false, "title": null, "grid": false}},
    "y": {"field": "v", "type": "nominal", "scale": {"type": "point", "domain": ["T", "B"], "padding": 0.093}, "axis": null}, "text": {"field": "t"}}}
 ],
 "resolve": {"scale": {"x": "independent", "y": "independent"}}},
{"width": 34, "height": 229, "view": {"stroke": null}, "data": {"values": [{"a": 0.5}]}, "mark": {"type": "point", "opacity": 0}, "encoding": {"x": {"field": "a", "type": "quantitative", "scale": {"domain": [0, 1]}, "axis": {"orient": "bottom", "offset": 23, "domain": true, "domainColor": "#555", "domainWidth": 2, "ticks": false, "labels": false, "title": null}}}},
{"width": 229, "height": 229, "title": {"text": "+ Rap", "dx": 7, "offset": 6}, "data": {"name": "flow"}, "transform": [{"filter": {"field": "p", "equal": "b3"}}],
 "layer": [
  {"encoding": {"x": {"field": "x", "type": "quantitative", "scale": {"domain": [-0.45, 4], "nice": false, "zero": false}, "axis": {"title": null}}, "y": {"field": "y", "type": "quantitative", "scale": {"domain": [-0.45, 4], "nice": false, "zero": false}, "axis": {"title": null}}},
   "layer": [
    {"transform": [{"filter": {"field": "k", "equal": "halo"}}], "mark": {"type": "line", "interpolate": "cardinal-closed", "fill": "#959595", "stroke": "#959595", "strokeWidth": 1}, "encoding": {"order": {"field": "i", "type": "quantitative"}}},
    {"transform": [{"filter": {"field": "k", "equal": "core"}}], "mark": {"type": "line", "interpolate": "cardinal-closed", "fill": "#0a0a0a", "stroke": "#0a0a0a", "strokeWidth": 1}, "encoding": {"order": {"field": "i", "type": "quantitative"}}},
    {"transform": [{"filter": {"field": "k", "equal": "dot"}}], "mark": {"type": "point", "filled": true, "size": 3, "color": "#222", "strokeWidth": 0, "opacity": 1}},
    {"transform": [{"filter": {"field": "k", "equal": "gate"}}], "mark": {"type": "rule", "color": "#3a3a3a", "strokeWidth": 1.5}, "encoding": {"y": {"datum": -0.45}, "y2": {"datum": 4}}},
    {"transform": [{"filter": {"field": "k", "equal": "gate"}}], "mark": {"type": "rule", "color": "#3a3a3a", "strokeWidth": 1.5}, "encoding": {"x": {"datum": -0.45}, "x2": {"datum": 4}}}
   ]},
  {"transform": [{"filter": {"field": "k", "equal": "pct"}}], "mark": {"type": "text", "fontSize": 20, "color": "#1e1e1e", "font": "DejaVu Sans"},
   "encoding": {"x": {"field": "s", "type": "nominal", "scale": {"type": "point", "domain": ["L", "R"], "padding": 0.27, "align": 0.658}, "axis": {"orient": "bottom", "offset": 23, "domain": true, "domainColor": "#555", "domainWidth": 2, "ticks": false, "labels": false, "title": null, "grid": false}},
    "y": {"field": "v", "type": "nominal", "scale": {"type": "point", "domain": ["T", "B"], "padding": 0.093}, "axis": null}, "text": {"field": "t"}}}
 ],
 "resolve": {"scale": {"x": "independent", "y": "independent"}}},
{"width": 35, "height": 229, "view": {"stroke": null}, "data": {"values": [{"a": 0.5}]}, "mark": {"type": "point", "opacity": 0}, "encoding": {"x": {"field": "a", "type": "quantitative", "scale": {"domain": [0, 1]}, "axis": {"orient": "bottom", "offset": 23, "domain": true, "domainColor": "#555", "domainWidth": 2, "ticks": false, "labels": false, "title": null}}}},
{"width": 229, "height": 229, "title": {"text": "+ Rap/Agonist", "dx": -13, "offset": 6}, "data": {"name": "flow"}, "transform": [{"filter": {"field": "p", "equal": "b4"}}],
 "layer": [
  {"encoding": {"x": {"field": "x", "type": "quantitative", "scale": {"domain": [-0.45, 4], "nice": false, "zero": false}, "axis": {"title": null}}, "y": {"field": "y", "type": "quantitative", "scale": {"domain": [-0.45, 4], "nice": false, "zero": false}, "axis": {"title": null}}},
   "layer": [
    {"transform": [{"filter": {"field": "k", "equal": "halo"}}], "mark": {"type": "line", "interpolate": "cardinal-closed", "fill": "#959595", "stroke": "#959595", "strokeWidth": 1}, "encoding": {"order": {"field": "i", "type": "quantitative"}}},
    {"transform": [{"filter": {"field": "k", "equal": "core"}}], "mark": {"type": "line", "interpolate": "cardinal-closed", "fill": "#0a0a0a", "stroke": "#0a0a0a", "strokeWidth": 1}, "encoding": {"order": {"field": "i", "type": "quantitative"}}},
    {"transform": [{"filter": {"field": "k", "equal": "dot"}}], "mark": {"type": "point", "filled": true, "size": 3, "color": "#222", "strokeWidth": 0, "opacity": 1}},
    {"transform": [{"filter": {"field": "k", "equal": "gate"}}], "mark": {"type": "rule", "color": "#3a3a3a", "strokeWidth": 1.5}, "encoding": {"y": {"datum": -0.45}, "y2": {"datum": 4}}},
    {"transform": [{"filter": {"field": "k", "equal": "gate"}}], "mark": {"type": "rule", "color": "#3a3a3a", "strokeWidth": 1.5}, "encoding": {"x": {"datum": -0.45}, "x2": {"datum": 4}}}
   ]},
  {"transform": [{"filter": {"field": "k", "equal": "pct"}}], "mark": {"type": "text", "fontSize": 20, "color": "#1e1e1e", "font": "DejaVu Sans"},
   "encoding": {"x": {"field": "s", "type": "nominal", "scale": {"type": "point", "domain": ["L", "R"], "padding": 0.27, "align": 0.456}, "axis": {"orient": "bottom", "offset": 23, "domain": true, "domainColor": "#555", "domainWidth": 2, "ticks": false, "labels": false, "title": null, "grid": false}},
    "y": {"field": "v", "type": "nominal", "scale": {"type": "point", "domain": ["T", "B"], "padding": 0.093}, "axis": null}, "text": {"field": "t"}}}
 ],
 "resolve": {"scale": {"x": "independent", "y": "independent"}}},
{"width": 13, "height": 229, "view": {"stroke": null}, "data": {"values": [{"a": 0.5}]}, "mark": {"type": "point", "opacity": 0}, "encoding": {"x": {"field": "a", "type": "quantitative", "scale": {"domain": [0, 1]}, "axis": {"orient": "bottom", "offset": 23, "domain": true, "domainColor": "#555", "domainWidth": 2, "ticks": false, "labels": false, "title": null}}}}
],
"config": {
 "font": "DejaVu Sans",
 "background": "white",
 "view": {"stroke": "#3a3a3a", "strokeWidth": 1.3},
 "title": {"fontSize": 23, "fontWeight": "normal", "color": "#1e1e1e", "font": "DejaVu Sans", "baseline": "alphabetic", "offset": 19, "anchor": "middle"},
 "axisXQuantitative": {
  "values": [-0.3, 0, 0.3, 0.48, 0.6, 0.7, 0.78, 0.85, 0.9, 0.95, 1, 1.3, 1.48, 1.6, 1.7, 1.78, 1.85, 1.9, 1.95, 2, 2.3, 2.48, 2.6, 2.7, 2.78, 2.85, 2.9, 2.95, 3, 3.3, 3.48, 3.6, 3.7, 3.78, 3.85, 3.9, 3.95, 4],
  "labelExpr": "datum.value === 0 ? '0' : datum.value === 1 ? '10⁰' : datum.value === 2 ? '10¹' : datum.value === 3 ? '10²' : datum.value === 4 ? '10³' : ''",
  "domain": false, "grid": false, "tickColor": "#555", "tickWidth": 0.8,
  "tickSize": {"condition": {"test": "datum.value % 1 === 0 || datum.value === -0.3", "value": 4}, "value": 2},
  "labelFontSize": 7, "labelColor": "#444", "labelPadding": 2, "labelFlush": false, "labelOverlap": false, "labelBound": false, "labelFont": "DejaVu Sans"
 },
 "axisYQuantitative": {
  "values": [-0.3, 0, 0.3, 0.48, 0.6, 0.7, 0.78, 0.85, 0.9, 0.95, 1, 1.3, 1.48, 1.6, 1.7, 1.78, 1.85, 1.9, 1.95, 2, 2.3, 2.48, 2.6, 2.7, 2.78, 2.85, 2.9, 2.95, 3, 3.3, 3.48, 3.6, 3.7, 3.78, 3.85, 3.9, 3.95, 4],
  "labelExpr": "datum.value === 0 ? '0' : datum.value === 1 ? '10⁰' : datum.value === 2 ? '10¹' : datum.value === 3 ? '10²' : datum.value === 4 ? '10³' : ''",
  "domain": false, "grid": false, "tickColor": "#555", "tickWidth": 0.8,
  "tickSize": {"condition": {"test": "datum.value % 1 === 0 || datum.value === -0.3", "value": 4}, "value": 2},
  "labelFontSize": 7, "labelColor": "#444", "labelPadding": 1, "labelFlush": false, "labelOverlap": false, "labelBound": false, "labelFont": "DejaVu Sans"
 }
}
}
